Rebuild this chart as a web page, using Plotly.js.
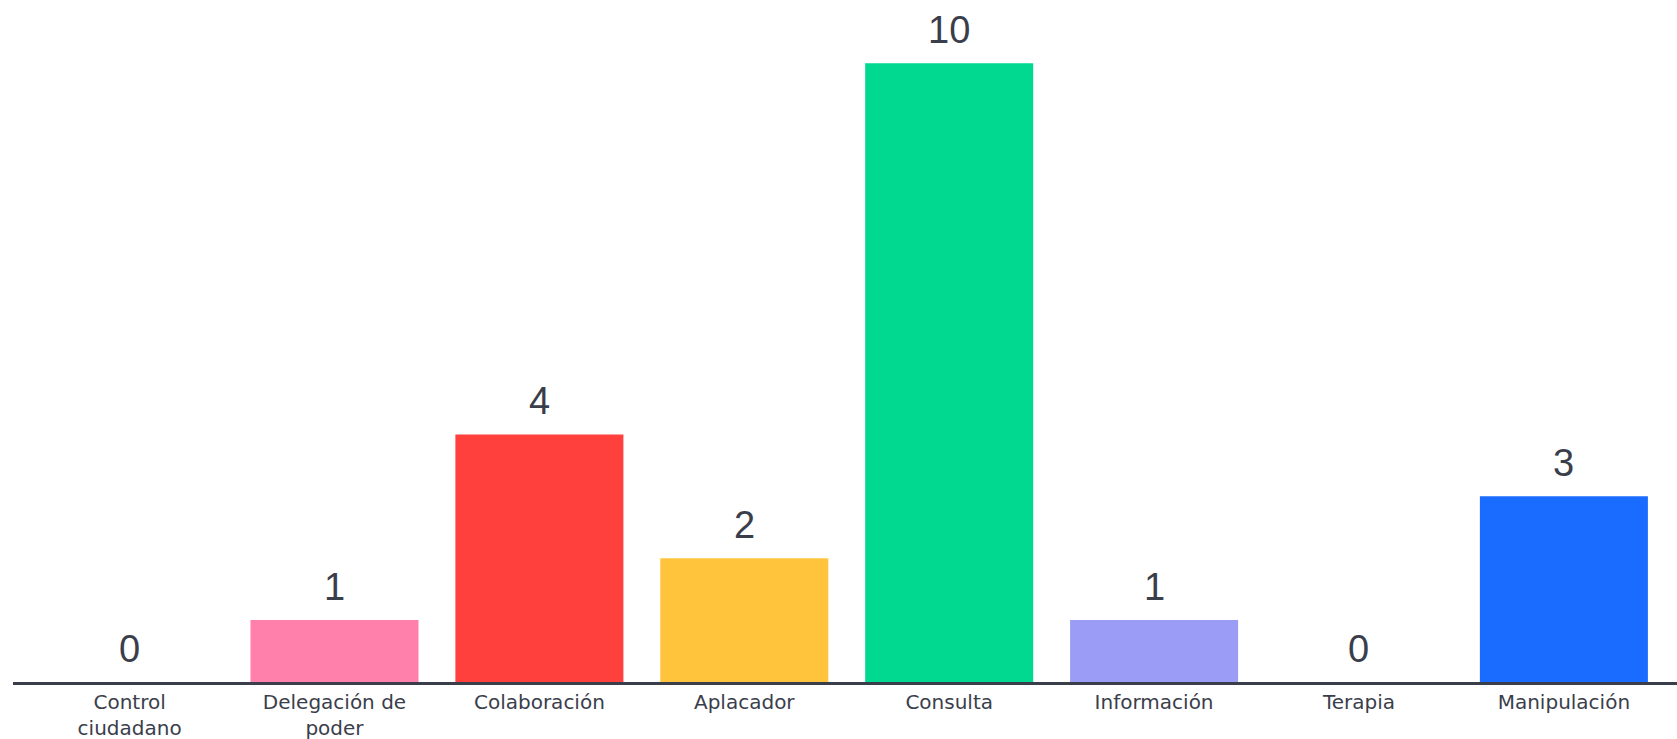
<!DOCTYPE html>
<html>
<head>
<meta charset="utf-8">
<script src="https://cdn.plot.ly/plotly-3.0.1.min.js"></script>
<style>html,body{margin:0;padding:0;background:#fff;}#chart{width:1677px;height:739px;}</style>
</head>
<body>
<div id="chart"></div>
<script>
const categories = ["Control ciudadano", "Delegación de poder", "Colaboración", "Aplacador", "Consulta", "Información", "Terapia", "Manipulación"];
const tickLabels = ["Control<br>ciudadano", "Delegación de<br>poder", "Colaboración", "Aplacador", "Consulta", "Información", "Terapia", "Manipulación"];
const values = [0, 1, 4, 2, 10, 1, 0, 3];
const barColors = ["#FF80AB", "#FF80AB", "#FF403D", "#FFC43C", "#00D98F", "#9A9CF5", "#9A9CF5", "#196CFF"];

const textColor = "#3a3e4b";

const trace = {
  type: "bar",
  x: categories,
  y: values,
  marker: {color: barColors},
  hoverinfo: "none"
};

const annotations = categories.map((c, i) => ({
  x: c, y: values[i], xref: "x", yref: "y",
  text: String(values[i]),
  showarrow: false, yanchor: "bottom", yshift: 10,
  font: {family: "Liberation Sans, Arial, sans-serif", size: 38, color: textColor}
}));

const layout = {
  width: 1677, height: 739,
  margin: {l: 13, r: 0, t: 0, b: 57, pad: 0},
  paper_bgcolor: "#fff", plot_bgcolor: "#fff",
  bargap: 0.18,
  showlegend: false,
  xaxis: {
    type: "category",
    range: [-0.569, 7.552],
    tickvals: categories,
    ticktext: tickLabels,
    showline: true, linecolor: "#3a3e4a", linewidth: 3,
    ticks: "", showgrid: false, zeroline: false,
    tickfont: {family: "DejaVu Sans, sans-serif", size: 20, color: textColor},
    fixedrange: true
  },
  yaxis: {
    range: [0, 11.02],
    visible: false, showgrid: false, zeroline: false,
    fixedrange: true
  },
  annotations: annotations
};

Plotly.newPlot("chart", [trace], layout, {displayModeBar: false, staticPlot: true});
</script>
</body>
</html>
